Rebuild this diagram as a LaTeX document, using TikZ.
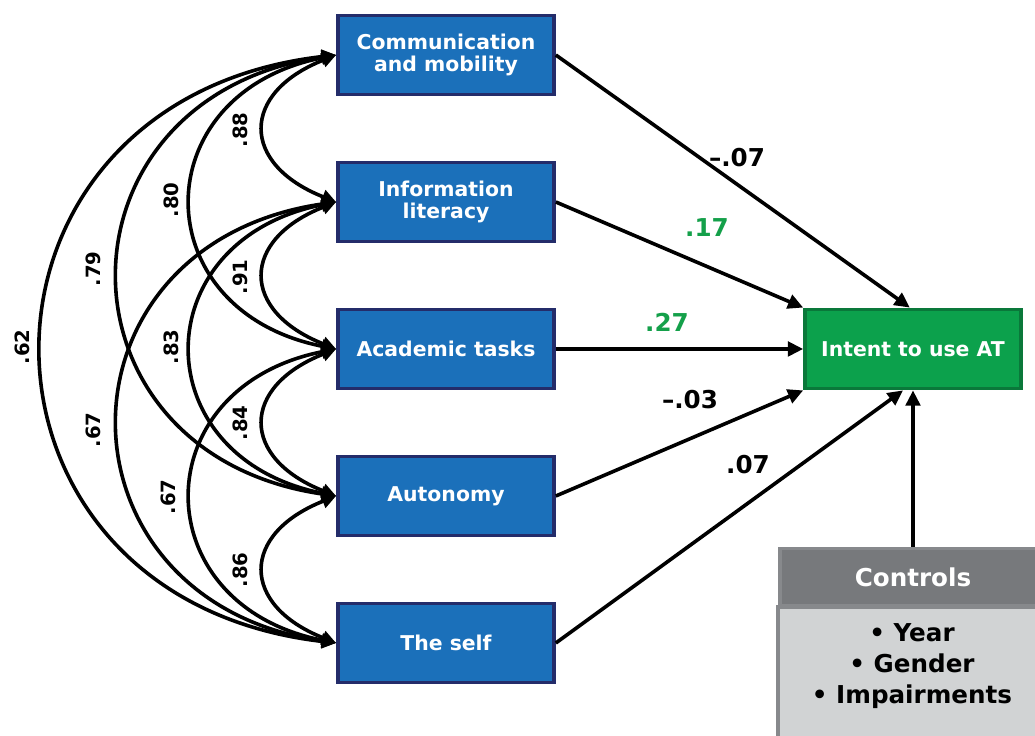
\documentclass[tikz,border=0pt]{standalone}
\usepackage{fontspec}
\setmainfont{DejaVu Sans}
\usepackage{tikz}
\usetikzlibrary{arrows.meta,positioning}
\definecolor{varblue}{RGB}{27,112,186}
\definecolor{varnavy}{RGB}{36,44,106}
\definecolor{outgreen}{RGB}{12,161,76}
\definecolor{outdkgreen}{RGB}{10,120,58}
\definecolor{coefgreen}{RGB}{20,160,74}
\definecolor{ctrldark}{RGB}{119,121,124}
\definecolor{ctrllight}{RGB}{209,211,212}
\definecolor{ctrlline}{RGB}{135,137,140}
\tikzset{
	varbox/.style={draw=varnavy,fill=varblue,line width=0.09cm,minimum width=5.4cm,minimum height=1.98cm,
		text=white,align=center,font=\fontsize{14.5}{15}\selectfont\bfseries},
	outbox/.style={varbox,draw=outdkgreen,fill=outgreen},
	corr/.style={line width=0.09cm,{Triangle[length=0.36cm,width=0.34cm]}-{Triangle[length=0.36cm,width=0.34cm]}},
	path/.style={line width=0.09cm,-{Triangle[length=0.38cm,width=0.36cm]}},
	corrlab/.style={rotate=90,font=\fontsize{14}{16}\selectfont\bfseries},
	coef/.style={font=\fontsize{17.5}{20}\selectfont\bfseries},
}
\begin{document}
\begin{tikzpicture}[x=0.025cm,y=0.025cm]
	\clip (0,0) rectangle (1035,736);
	\fill[white] (0,0) rectangle (1035,736);

	\node[varbox] (comm) at (446,681) {Communication\\and mobility};
	\node[varbox] (info) at (446,534) {Information\\literacy};
	\node[varbox] (acad) at (446,387) {Academic tasks};
	\node[varbox] (auton) at (446,240) {Autonomy};
	\node[varbox] (self) at (446,93) {The self};
	\node[outbox] (intent) at (913,387) {Intent to use AT};

	\draw[corr] (comm.west) .. controls +(-96,-38) and +(-96,38) .. (info.west);
	\draw[corr] (info.west) .. controls +(-96,-38) and +(-96,38) .. (acad.west);
	\draw[corr] (acad.west) .. controls +(-96,-38) and +(-96,38) .. (auton.west);
	\draw[corr] (auton.west) .. controls +(-96,-38) and +(-96,38) .. (self.west);
	\draw[corr] (comm.west) .. controls +(-193,-38) and +(-193,38) .. (acad.west);
	\draw[corr] (info.west) .. controls +(-193,-38) and +(-193,38) .. (auton.west);
	\draw[corr] (acad.west) .. controls +(-193,-38) and +(-193,38) .. (self.west);
	\draw[corr] (comm.west) .. controls +(-290,-42) and +(-290,42) .. (auton.west);
	\draw[corr] (info.west) .. controls +(-290,-42) and +(-290,42) .. (self.west);
	\draw[corr] (comm.west) .. controls +(-392,-45) and +(-392,45) .. (self.west);

	\node[corrlab] (r12) at (240,606) {.88};
	\node[corrlab] (r13) at (171,536) {.80};
	\node[corrlab] (r14) at (93,467) {.79};
	\node[corrlab] (r15) at (22,389) {.62};
	\node[corrlab] (r23) at (240,459) {.91};
	\node[corrlab] (r24) at (171,389) {.83};
	\node[corrlab] (r25) at (93,306) {.67};
	\node[corrlab] (r34) at (240,313) {.84};
	\node[corrlab] (r35) at (168,239) {.67};
	\node[corrlab] (r45) at (240,166) {.86};

	\draw[path] (comm.east) -- ([xshift=-0.08cm]intent.north);
	\draw[path] (info.east) -- (intent.north west);
	\draw[path] (acad.east) -- (intent.west);
	\draw[path] (auton.east) -- (intent.south west);
	\draw[path] (self.east) -- ([xshift=-0.25cm]intent.south);

	\node[coef] (b1) at (737,578) {–.07};
	\node[coef,text=coefgreen] (b2) at (707,508) {.17};
	\node[coef,text=coefgreen] (b3) at (667,414) {.27};
	\node[coef] (b4) at (690,336) {–.03};
	\node[coef] (b5) at (748,271) {.07};

	\node[draw=ctrlline,fill=ctrldark,line width=0.09cm,minimum width=6.65cm,minimum height=1.42cm,
		text=white,font=\fontsize{17.5}{20}\selectfont\bfseries] (ctrl) at (913,159) {Controls};
	\draw[draw=ctrlline,fill=ctrllight,line width=0.09cm] (ctrl.south west) rectangle ++(266,-150);
	\node[align=center,font=\fontsize{17.5}{22}\selectfont\bfseries] (items) at (912,70) {• Year\\• Gender\\• Impairments};
	\draw[path] (ctrl.north) -- (intent.south);
\end{tikzpicture}
\end{document}
